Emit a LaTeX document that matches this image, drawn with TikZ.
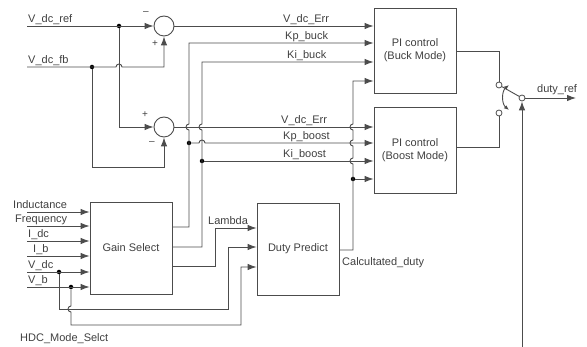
\documentclass[tikz,border=0pt]{standalone}
\usepackage{fontspec}
\setmainfont{Liberation Sans}
\usetikzlibrary{positioning,arrows.meta}

\begin{document}
\begin{tikzpicture}
	[
	x = 1pt, y = -1pt,
	font = \fontsize{11}{13}\selectfont,
	text = black!75,
	wire/.style = {draw=black!70, line width=0.9pt},
	arr/.style = {wire, -{Latex[length=9pt,width=6.5pt]}},
	block/.style = {draw=black!70, line width=0.9pt, rectangle, minimum width=82pt, minimum height=86pt, align=center},
	sum/.style = {draw=black!70, line width=0.9pt, circle, minimum size=20pt, inner sep=0pt},
	contact/.style = {draw=black!70, line width=0.8pt, circle, minimum size=6pt, inner sep=0pt, fill=white},
	dot/.style = {circle, fill=black, minimum size=4.5pt, inner sep=0pt},
	lbl/.style = {inner sep=0pt, anchor=base west},
	sign/.style = {inner sep=0pt, font=\fontsize{10}{10}\selectfont}
	]
	\useasboundingbox (0,0) rectangle (587,347);

	\node[sum] (sum1) at (164,26) {};
	\node[sum] (sum2) at (164,127) {};
	\node[block, minimum height=85pt] (buck) at (415,50.5) {PI control\\(Buck Mode)};
	\node[block] (boost) at (415,150) {PI control\\(Boost Mode)};
	\node[block, minimum height=92pt] (gain) at (131,248) {Gain Select};
	\node[block, minimum height=92pt] (duty) at (298,249) {Duty Predict};

	\node[dot] (dref) at (119,26) {};
	\node[dot] (dfb) at (92,67) {};
	\node[dot] (dkp) at (189,143) {};
	\node[dot] (dki) at (202,161) {};
	\node[dot] (dcd) at (353,179) {};
	\node[dot] (dvdc) at (59,272) {};
	\node[dot] (dvb) at (71,287) {};

	\coordinate (ref) at (27,26);
	\coordinate (fb) at (27,67);
	\coordinate (mode) at (522,347);
	\coordinate (out) at (576,98);

	% comparators
	\draw[arr] (ref) -- (sum1);
	\draw[arr] (dref) |- (sum2);
	\draw[arr] (fb) -- (116,67) arc[start angle=180, end angle=360, radius=3] -- (sum1 |- fb) -- (sum1);
	\draw[arr] (dfb) |- (sum2 |- 0,167) -- (sum2);
	\node[sign] at (146,13) {--};
	\node[sign] at (155,44) {+};
	\node[sign] at (145,115) {+};
	\node[sign] at (152,143) {--};

	% error signals
	\draw[arr] (sum1) -- (buck.west |- sum1);
	\draw[arr] (sum2) -- (boost.west |- sum2);

	% gains
	\draw[arr] (gain.east |- 0,227) -- (189,227) -- (189,130)
		arc[start angle=90, end angle=270, radius=3] -- (189,43) -- (buck.west |- 0,43);
	\draw[arr] (gain.east |- 0,247) -- (202,247) -- (202,130)
		arc[start angle=90, end angle=270, radius=3] -- (202,62) -- (buck.west |- 0,62);
	\draw[arr] (dkp) -- (199,143) arc[start angle=180, end angle=360, radius=3] -- (boost.west |- dkp);
	\draw[arr] (dki) -- (boost.west |- dki);
	\draw[arr] (gain.east |- 0,266) -- (215,266) -- (215,228) -- (duty.west |- 0,228);

	% predicted duty
	\draw[arr] (duty.east |- 0,250) -- (353,250) -- (353,164)
		arc[start angle=90, end angle=270, radius=3] -- (353,146)
		arc[start angle=90, end angle=270, radius=3] -- (353,130)
		arc[start angle=90, end angle=270, radius=3] -- (353,81) -- (buck.west |- 0,81);
	\draw[arr] (dcd) -- (boost.west |- dcd);
	\draw[arr] (dvdc) -- (59,309) -- (228,309) -- (228,247) -- (duty.west |- 0,247);
	\draw[arr] (dvb) -- (71,306) arc[start angle=270, end angle=90, radius=3]
		-- (71,325) -- (241,325) -- (241,267) -- (duty.west |- 0,267);

	% inputs
	\foreach \y/\t/\lx in {212/Inductance/13, 226/Frequency/15, 241/I\_dc/28, 256/I\_b/33, 272/V\_dc/28, 287/V\_b/28}
	{
		\draw[arr] (27,\y) -- (gain.west |- 0,\y);
		\node[lbl] at (\lx,\y-3) {\t};
	}

	% switch
	\node[contact] (cbuck) at (499,85) {};
	\node[contact] (cboost) at (499,113) {};
	\node[contact] (pivot) at (522,98) {};
	\draw[wire] (buck.east |- 0,51) -| (cbuck);
	\draw[wire] (boost.east |- 0,147) -| (cboost);
	\draw[wire] (cbuck) -- (pivot);
	\draw[arr] (pivot) -- (out);
	\draw[arr] (mode) -- (pivot);
	\draw[wire, {Latex[length=5pt,width=4pt]}-{Latex[length=5pt,width=4pt]}] (509,85) to[bend right=50] (509,110);

	% labels
	\node[lbl] at (28,23) {V\_dc\_ref};
	\node[lbl] at (28,64) {V\_dc\_fb};
	\node[lbl] at (283,23) {V\_dc\_Err};
	\node[lbl] at (285,40) {Kp\_buck};
	\node[lbl] at (287,59) {Ki\_buck};
	\node[lbl] at (281,124) {V\_dc\_Err};
	\node[lbl] at (283,140) {Kp\_boost};
	\node[lbl] at (283,158) {Ki\_boost};
	\node[lbl] at (208,225) {Lambda};
	\node[lbl] at (342,266) {Calcultated\_duty};
	\node[lbl] at (537,93) {duty\_ref};
	\node[lbl] at (20,342) {HDC\_Mode\_Selct};
\end{tikzpicture}
\end{document}
